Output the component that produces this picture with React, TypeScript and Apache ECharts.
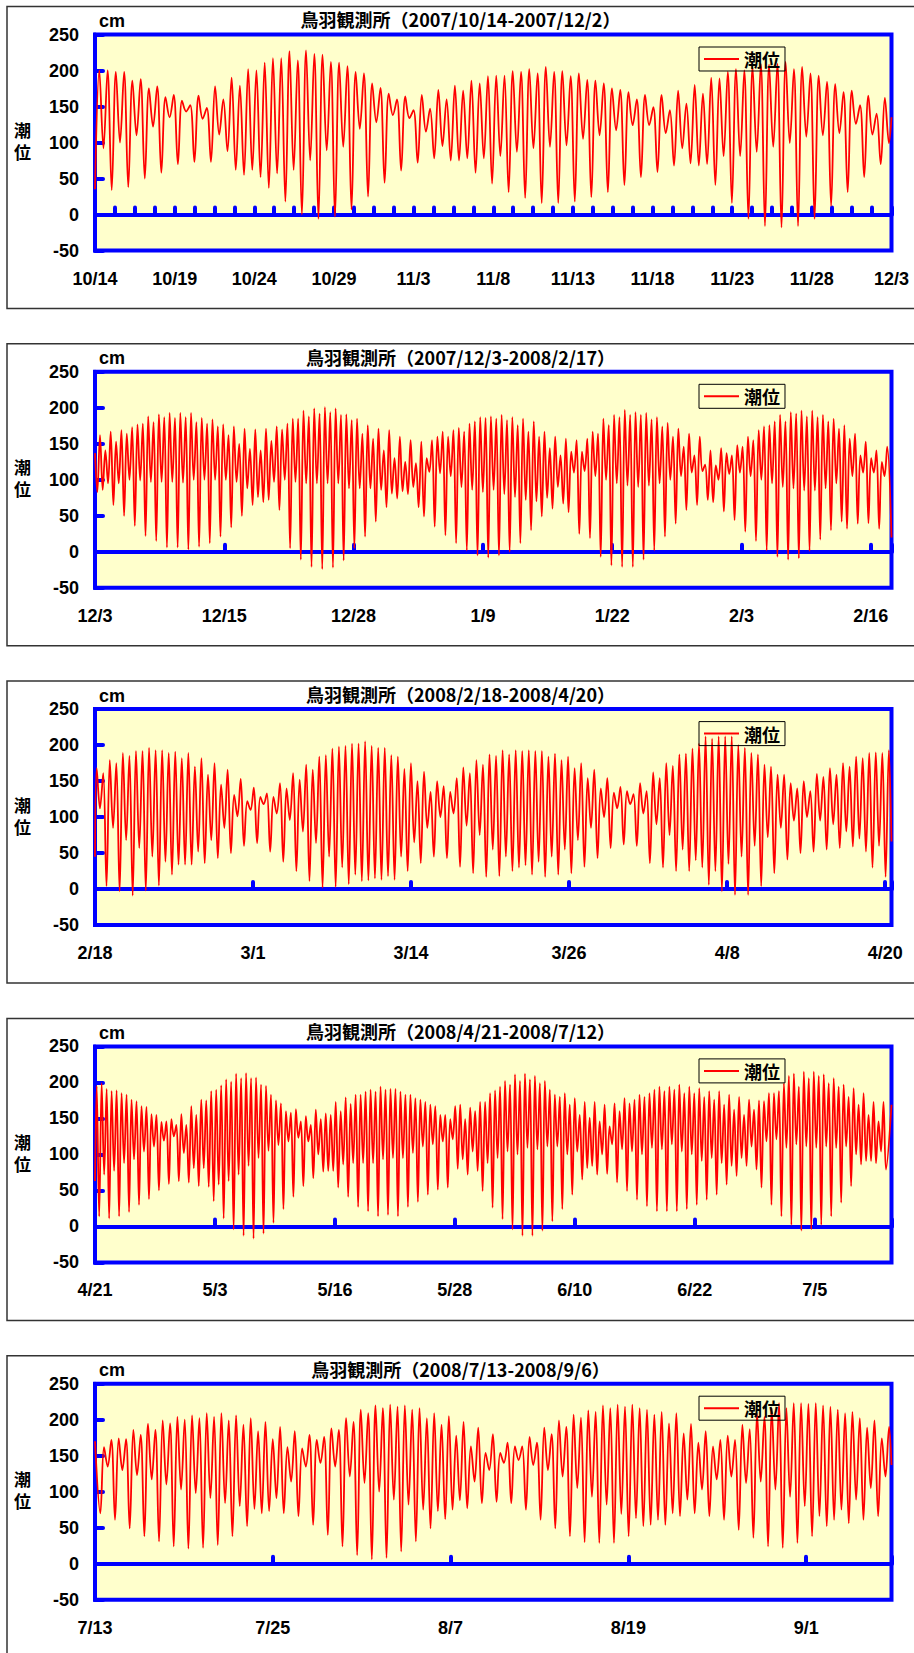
import React, { useEffect, useRef } from "react";
import * as echarts from "echarts";

// ---------- tick labels & titles ----------
const p1Labels = ["10/14", "10/19", "10/24", "10/29", "11/3", "11/8", "11/13", "11/18", "11/23", "11/28", "12/3"];
const p2Labels = ["12/3", "12/15", "12/28", "1/9", "1/22", "2/3", "2/16"];
const p3Labels = ["2/18", "3/1", "3/14", "3/26", "4/8", "4/20"];
const p4Labels = ["4/21", "5/3", "5/16", "5/28", "6/10", "6/22", "7/5"];
const p5Labels = ["7/13", "7/25", "8/7", "8/19", "9/1"];
const titles = [
  "鳥羽観測所（2007/10/14-2007/12/2）",
  "鳥羽観測所（2007/12/3-2008/2/17）",
  "鳥羽観測所（2008/2/18-2008/4/20）",
  "鳥羽観測所（2008/4/21-2008/7/12）",
  "鳥羽観測所（2008/7/13-2008/9/6）",
];
const yTicks = [-50, 0, 50, 100, 150, 200, 250];

// ---------- tide values (cm): high waters and the low water after each ----------
const p1Highs = [200,200,198,198,186,188,175,178,163,166,158,152,165,148,178,160,190,179,202,200,211,217,217,227,214,228,223,222,212,211,206,198,196,182,176,168,160,164,145,166,147,173,160,179,
  172,186,182,192,193,193,199,198,202,196,205,198,199,192,196,187,186,182,175,173,170,160,166,149,166,145,172,154,180,168,190,189,198,202,200,205,209,208,209,212,202,205,196,193,184,181,170,172,152,165,140,162];
const p1Lows = [92,34,100,38,110,50,122,58,135,70,143,73,133,73,111,88,62,55,62,52,37,57,18,62,0,75,-6,89,-3,94,7,119,25,128,44,138,61,134,72,115,78,95,75,75,
  78,58,78,43,81,31,87,23,92,16,94,16,96,18,105,24,110,31,117,41,124,52,124,59,113,68,92,71,68,70,41,81,16,81,-6,87,-16,94,-18,99,-16,108,-6,110,12,113,31,126,52,111,70,99];

const p2Highs = [162,141,167,153,169,164,173,177,178,188,180,191,187,193,186,193,187,193,180,186,178,184,174,177,162,174,150,171,143,170,141,171,154,174,170,178,185,185,196,188,199,192,201,194,199,190,191,183,185,164,176,157,171,141,169,130,160,125,155,123,153,130,155,160,167,160,169,
  172,167,178,181,187,186,188,185,190,183,187,176,185,167,181,160,167,144,160,134,157,139,155,139,157,167,164,185,176,190,187,197,190,194,190,193,184,187,174,179,160,171,146,164,134,160,121,141,120,144,137,134,148,146,160,155,169,174,176,181,190,181,194,192,196,188,196,187,190,181,185,171,176,157,164,134,153,130,141,125,146];
const p2Lows = [86,95,65,95,50,100,36,99,22,97,15,97,6,97,6,96,3,100,7,100,12,100,21,100,34,97,50,88,65,76,69,72,97,58,100,5,97,-11,95,-21,95,-24,95,-22,95,-12,88,5,88,21,88,42,86,62,81,74,84,80,90,62,49,111,35,109,23,105,12,
  90,2,86,-5,83,-8,86,-5,80,0,76,12,72,30,70,49,75,60,90,67,55,110,25,112,19,105,-7,100,-19,95,-21,92,-21,90,-11,92,2,95,21,100,39,105,58,110,65,112,72,69,100,56,108,44,110,28,105,15,100,2,95,-7,90,-11,88,-9,85,1,85,17,88,30,95,42,32,105,39,110,40,110,32,105];

const p3Highs = [168,161,179,175,189,185,192,192,196,193,193,189,191,182,189,170,182,159,175,145,166,131,153,122,141,128,133,128,147,140,161,152,173,166,184,186,195,198,199,202,202,205,199,196,196,186,184,167,175,150,163,135,150,143,135,
  154,169,161,179,173,187,185,193,187,193,192,193,192,192,184,188,179,184,168,175,154,166,140,154,134,142,136,132,147,136,162,154,175,171,187,188,195,202,212,209,212,212,212,200,196,189,187,173,170,159,159,147,140,150,136,160,156,168,159,175,170,184,182,189,190,189,193];
const p3Lows = [112,4,85,-3,68,-9,57,-2,45,5,38,20,34,34,34,52,36,68,43,85,50,101,60,110,64,118,52,105,38,96,25,80,11,64,2,45,3,30,7,20,11,12,15,13,18,13,45,25,65,36,85,45,100,43,105,
  31,88,22,75,17,55,18,45,25,30,33,20,38,17,45,20,55,22,68,31,85,43,100,57,112,62,118,60,105,36,90,30,75,25,55,25,40,30,6,25,-3,35,-8,45,-8,60,4,72,22,85,41,95,50,100,52,95,55,90,57,80,59,70,52,30,60,17];

const p4Highs = [195,199,191,188,189,185,183,176,174,167,166,156,155,145,146,149,141,156,141,167,155,176,175,188,190,196,204,201,212,206,213,206,207,197,195,183,175,171,160,158,163,146,153,141,162,149,157,155,173,160,179,170,183,183,187,190,187,194,190,191,191,187,183,183,178,176,173,169,167,155,155,149,167,
  169,149,165,160,173,173,185,189,194,202,197,211,202,212,204,209,199,202,190,183,180,185,169,178,155,173,151,173,146,169,139,171,160,178,171,176,183,180,185,190,194,188,194,190,197,185,194,185,192,180,188,176,188,169,183,162,180,155,176,162,175,174,185,185,188,199,209,212,194,215,206,215,209,211,199,206,194,197,180,192,169,185,155,173,146,173];
const p4Lows = [14,72,11,77,14,88,20,93,30,104,38,111,50,119,59,125,63,102,61,81,56,81,55,35,58,11,63,-4,72,-13,84,-17,95,-10,105,5,113,24,118,41,123,56,118,67,100,76,77,77,54,86,41,88,27,88,21,88,14,93,16,95,14,95,27,102,34,111,44,114,51,118,54,121,80,
  93,72,104,77,49,88,26,95,10,104,-4,100,-13,109,-13,107,-6,111,7,111,24,100,44,104,65,81,84,72,100,73,114,61,107,49,104,37,100,28,109,21,107,21,114,21,104,24,100,30,91,37,95,44,88,58,84,70,95,84,111,79,54,118,30,121,14,109,2,114,-6,111,-4,109,2,111,14,109,33,111,56,100,86,91,91,88,104,79];

const p5Highs = [162,172,174,173,186,179,194,186,199,195,204,200,206,202,209,204,209,199,206,193,202,184,197,173,190,162,184,160,179,172,176,188,186,202,197,214,209,220,216,221,218,220,214,216,202,209,193,205,178,
  197,163,189,154,180,154,168,163,163,176,168,189,180,199,190,207,203,213,211,220,216,221,218,221,216,214,207,211,195,209,181,194,168,184,163,172,178,172,193,187,209,204,216,223,216,223,223,222,223,220,218,214,209,211,202,189,199,174,190];
const p5Lows = [135,61,130,49,123,38,117,31,110,24,103,21,98,22,91,26,84,38,80,52,76,70,73,91,70,114,66,135,54,140,40,135,24,121,12,112,6,100,8,89,17,82,31,75,49,73,62,75,88,
  77,114,84,130,86,140,84,144,75,137,61,130,49,121,38,105,30,93,29,82,29,69,38,63,52,54,61,54,70,66,89,70,103,66,117,61,121,47,112,36,114,24,103,22,93,29,80,38,66,52,61,75,56,89,61,105,66,121];

// value at the start of each period, optional low before the first high, value at the end
const leadValues = [35, 137, 45, 63, 170];
const preLows = [null, 83, null, null, 70];
const tailValues = [135, 20, 66, 169, 137];
// hours: length of period, time of first and last high water
const periodHours = [1200, 1848, 1512, 1992, 1344];
const firstHigh = [6.5, 11.6, 3.2, 4.2, 15.2];
const lastHigh = [1190, 1838, 1507, 1972, 1340];
const tickHours = [30, 300, 300, 300, 300];
const labelHours = [120, 300, 300, 300, 300];

const highsAll = [p1Highs, p2Highs, p3Highs, p4Highs, p5Highs];
const lowsAll = [p1Lows, p2Lows, p3Lows, p4Lows, p5Lows];
const labelsAll = [p1Labels, p2Labels, p3Labels, p4Labels, p5Labels];

function buildSeries(i: number): number[][] {
  const highs = highsAll[i];
  const lows = lowsAll[i];
  const step = (lastHigh[i] - firstHigh[i]) / (highs.length - 1);
  const pts: number[][] = [[0, leadValues[i]]];
  if (preLows[i] != null) pts.push([firstHigh[i] - step / 2, preLows[i] as number]);
  highs.forEach((h, k) => {
    pts.push([firstHigh[i] + k * step, h]);
    if (k < lows.length) {
      const t = firstHigh[i] + (k + 0.5) * step;
      if (t < periodHours[i]) pts.push([t, lows[k]]);
    }
  });
  pts.push([periodHours[i], tailValues[i]]);
  return pts;
}

const PANEL_STEP = 337.3;
const LATIN = "'Liberation Sans', Arial, sans-serif";
const CJK = "'Noto Sans CJK JP', sans-serif";

export default function App() {
  const ref = useRef<HTMLDivElement>(null);
  useEffect(() => {
    if (!ref.current) return;
    const chart = echarts.init(ref.current, undefined, { renderer: "svg" });
    const grids: any[] = [];
    const xAxes: any[] = [];
    const yAxes: any[] = [];
    const series: any[] = [];
    const legends: any[] = [];
    const graphics: any[] = [];
    for (let i = 0; i < 5; i++) {
      const off = PANEL_STEP * i;
      grids.push({
        left: 95, top: 34.5 + off, width: 796.5, height: 216, show: true,
        backgroundColor: "#FFFFCC", borderColor: "#0000FF", borderWidth: 4,
      });
      const labels = labelsAll[i];
      const lInt = labelHours[i];
      xAxes.push({
        gridIndex: i, type: "value", min: 0, max: periodHours[i], interval: tickHours[i], position: "bottom",
        axisLine: { show: true, onZero: true, lineStyle: { color: "#0000FF", width: 4 } },
        axisTick: { show: true, inside: true, length: 7, lineStyle: { color: "#0000FF", width: 4, cap: "round" } },
        axisLabel: { show: false }, splitLine: { show: false },
      });
      xAxes.push({
        gridIndex: i, type: "value", min: 0, max: periodHours[i], interval: lInt, position: "bottom",
        axisLine: { show: false, onZero: false }, axisTick: { show: false }, splitLine: { show: false },
        axisLabel: {
          show: true, margin: 19, color: "#000", fontWeight: "bold", fontSize: 18, fontFamily: LATIN,
          showMinLabel: true, showMaxLabel: true,
          formatter: (v: number) => {
            const k = Math.round(v / lInt);
            return Math.abs(v - k * lInt) < 1e-6 && labels[k] ? labels[k] : "";
          },
        },
      });
      yAxes.push({
        gridIndex: i, type: "value", min: yTicks[0], max: yTicks[yTicks.length - 1], interval: 50,
        axisLine: { show: true, onZero: false, lineStyle: { color: "#0000FF", width: 4 } },
        axisTick: { show: true, inside: true, length: 8, lineStyle: { color: "#0000FF", width: 4, cap: "round" } },
        axisLabel: { margin: 16, color: "#000", fontWeight: "bold", fontSize: 18, fontFamily: LATIN },
        splitLine: { show: false },
      });
      series.push({
        type: "line", name: "潮位", xAxisIndex: 2 * i, yAxisIndex: i, data: buildSeries(i),
        symbol: "none", showSymbol: false, smooth: 0.35, z: 3,
        lineStyle: { color: "#FF0000", width: 1.8 }, itemStyle: { color: "#FF0000" },
      });
      legends.push({
        left: 699, top: 47 + off, orient: "horizontal", selectedMode: false,
        data: [{ name: "潮位", icon: "rect" }], itemWidth: 35, itemHeight: 2,
        padding: [3, 5, 3, 5], borderColor: "#000", borderWidth: 1, backgroundColor: "transparent",
        textStyle: { color: "#000", fontWeight: "bold", fontSize: 18, fontFamily: CJK },
      });
      graphics.push({
        type: "rect", shape: { x: 7, y: 6.5 + off, width: 930, height: 302 },
        style: { fill: "none", stroke: "#333", lineWidth: 1.5 }, silent: true,
      });
      graphics.push({
        type: "text", x: 460.5, y: 19.3 + off,
        style: { text: titles[i], font: `bold 18px ${CJK}`, fill: "#000", textAlign: "center", textVerticalAlign: "middle", verticalAlign: "middle" },
      });
      graphics.push({
        type: "text", x: 99, y: 21 + off,
        style: { text: "cm", font: `bold 18px ${LATIN}`, fill: "#000", textAlign: "left", textVerticalAlign: "middle", verticalAlign: "middle" },
      });
      graphics.push({
        type: "text", x: 22.5, y: 140.6 + off,
        style: {
          text: "潮\n位", fontSize: 17, fontWeight: "bold", fontFamily: CJK, lineHeight: 22,
          fill: "#000", textAlign: "center", textVerticalAlign: "middle", verticalAlign: "middle",
        },
      });
    }
    chart.setOption({
      animation: false,
      backgroundColor: "#fff",
      grid: grids, xAxis: xAxes, yAxis: yAxes, series, legend: legends,
      graphic: { elements: graphics },
    });
    return () => chart.dispose();
  }, []);
  return <div ref={ref} style={{ position: "absolute", left: 0, top: 0, width: 914, height: 1653 }} />;
}
